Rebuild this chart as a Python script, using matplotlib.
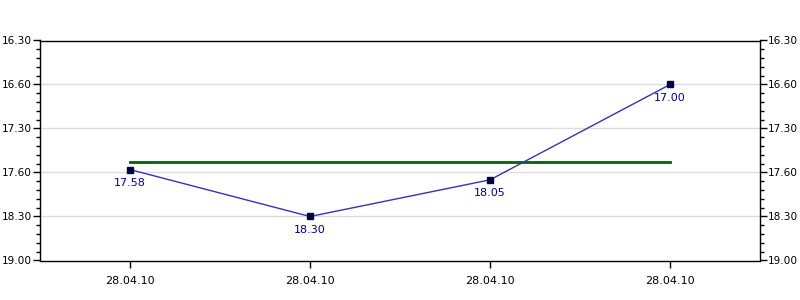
import matplotlib
matplotlib.use("Agg")
import matplotlib.pyplot as plt
from matplotlib.ticker import MultipleLocator, FixedLocator

# Data (values are clock times written as HH.MM)
categories = ["28.04.10", "28.04.10", "28.04.10", "28.04.10"]
values = ["17.58", "18.30", "18.05", "17.00"]
average_value = "17.53"
y_tick_labels = ["16.30", "16.60", "17.30", "17.60", "18.30", "19.00"]


def to_hours(s):
    h, m = s.split(".")
    return int(h) + int(m) / 60.0


xs = list(range(len(categories)))
ys = [to_hours(v) for v in values]
yticks = [to_hours(t) for t in y_tick_labels]

fig = plt.figure(figsize=(8, 3), dpi=100)
ax = fig.add_axes([40 / 800, 1 - 260.5 / 300, 720 / 800, 220 / 300])

ax.set_xlim(-0.5, len(categories) - 0.5)
ax.set_ylim(yticks[-1], yticks[0])

# grid lines at inner major ticks
for yt in yticks[1:-1]:
    ax.axhline(yt, color="#dddddd", lw=1, zorder=0)

ax.plot([xs[0], xs[-1]], [to_hours(average_value)] * 2, color="#006400", lw=2, zorder=2)
ax.plot(xs, ys, color="#3333bb", lw=1, zorder=3)
ax.plot(xs, ys, ls="none", marker="s", ms=4.5, mfc="#000033", mec="#000066", zorder=4)

for x, y, v in zip(xs, ys, values):
    ax.annotate(v, (x, y), xytext=(0, -6), textcoords="offset points",
                ha="center", va="top", fontsize=8, color="#000099",
                family="DejaVu Sans")

ax.set_xticks(xs)
ax.set_xticklabels(categories, fontsize=8, family="DejaVu Sans")
ax.yaxis.set_major_locator(FixedLocator(yticks))
ax.yaxis.set_minor_locator(MultipleLocator(0.1))
ax.set_yticklabels(y_tick_labels, fontsize=7.6, family="DejaVu Sans")
ax.tick_params(axis="y", which="major", length=5, width=1, left=True, right=True,
               labelleft=True, labelright=True, pad=1)
ax.tick_params(axis="y", which="minor", length=3, width=1, left=True, right=True)
ax.tick_params(axis="x", which="major", length=5, width=1, pad=6)

for s in ax.spines.values():
    s.set_color("black")
    s.set_linewidth(1)

fig.savefig("out.png", dpi=100)
